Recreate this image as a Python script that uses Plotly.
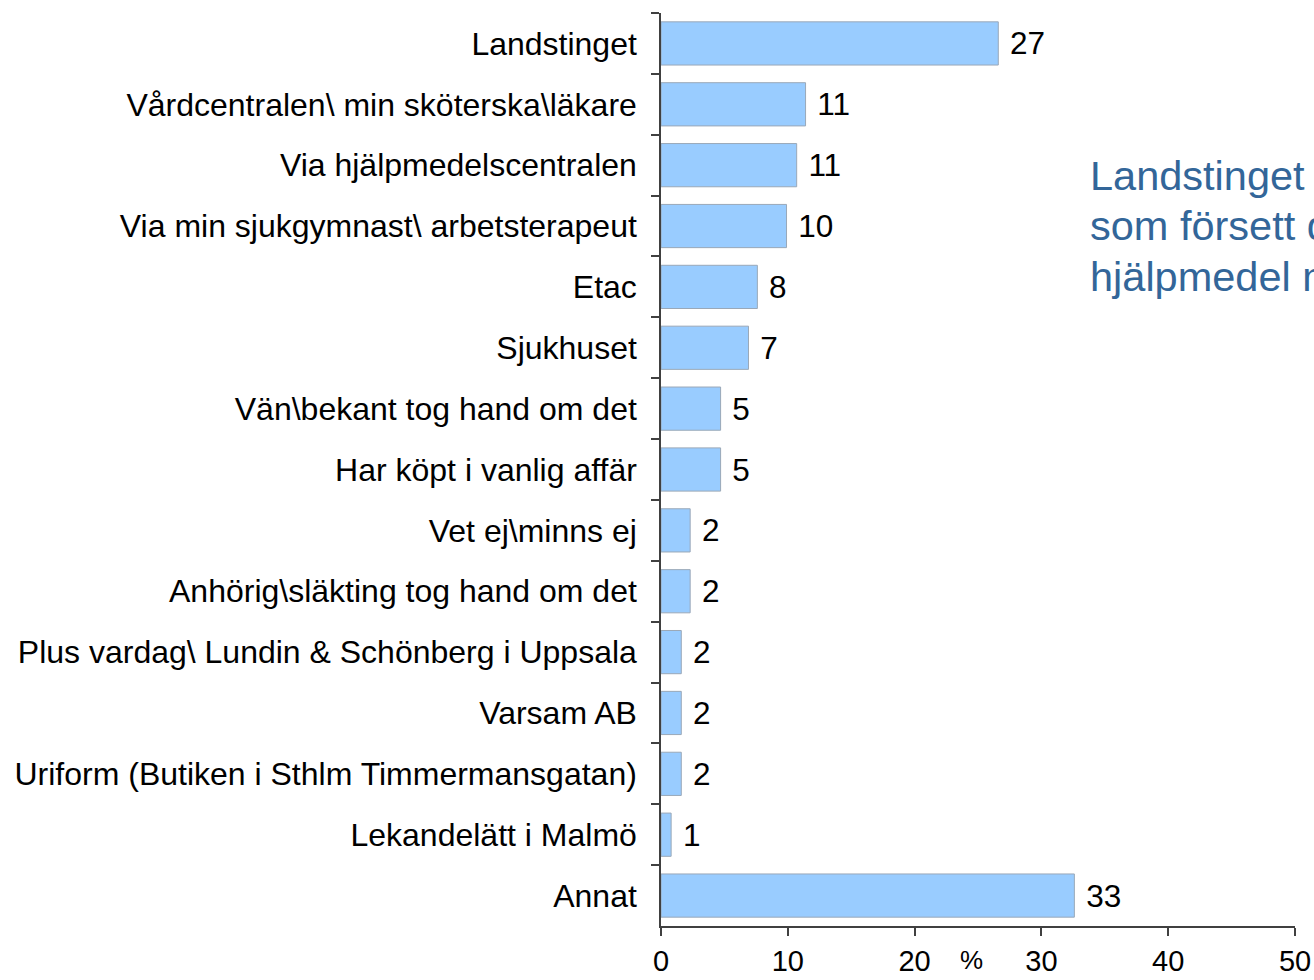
import plotly.graph_objects as go

categories = [
    "Landstinget",
    "Vårdcentralen\\ min sköterska\\läkare",
    "Via hjälpmedelscentralen",
    "Via min sjukgymnast\\ arbetsterapeut",
    "Etac",
    "Sjukhuset",
    "Vän\\bekant tog hand om det",
    "Har köpt i vanlig affär",
    "Vet ej\\minns ej",
    "Anhörig\\släkting tog hand om det",
    "Plus vardag\\ Lundin & Schönberg i Uppsala",
    "Varsam AB",
    "Uriform (Butiken i Sthlm Timmermansgatan)",
    "Lekandelätt i Malmö",
    "Annat",
]
values = [26.6, 11.4, 10.7, 9.9, 7.6, 6.9, 4.7, 4.7, 2.3, 2.3, 1.6, 1.6, 1.6, 0.8, 32.6]
x_ticks = [0, 10, 20, 30, 40, 50]
side_note = [
    "Landstinget är den aktör",
    "som försett de flesta med",
    "hjälpmedel mot inkontinens",
]

FONT = "Liberation Sans, Arial, sans-serif"
AXIS = "#404040"

fig = go.Figure(go.Bar(
    x=values,
    y=categories,
    orientation="h",
    width=0.71,
    marker=dict(color="#99CCFF", line=dict(color="#9AA8B8", width=1)),
    texttemplate=" %{x:.0f}",
    textposition="outside",
    constraintext="none",
    cliponaxis=False,
    textfont=dict(family=FONT, size=31.5, color="black"),
    hoverinfo="skip",
))

fig.update_layout(
    width=1314,
    height=980,
    margin=dict(l=661, r=19, t=13, b=54, autoexpand=False),
    plot_bgcolor="white",
    paper_bgcolor="white",
    showlegend=False,
    font=dict(family=FONT, size=31, color="black"),
)

fig.update_xaxes(
    range=[0, 50],
    tickvals=x_ticks,
    automargin=False,
    showgrid=False,
    zeroline=False,
    showline=True,
    linecolor=AXIS,
    linewidth=1.5,
    ticks="outside",
    ticklen=8,
    tickwidth=1.5,
    tickcolor=AXIS,
    tickfont=dict(family=FONT, size=29, color="black"),
)

fig.update_yaxes(
    autorange="reversed",
    automargin=False,
    tickson="boundaries",
    showgrid=False,
    showline=True,
    linecolor=AXIS,
    linewidth=1.5,
    ticks="outside",
    ticklen=8,
    tickwidth=1.5,
    tickcolor=AXIS,
    ticklabelstandoff=16,
    tickfont=dict(family=FONT, size=32, color="black"),
)

# axis unit marker
fig.add_annotation(
    text="%", x=24.5, y=-0.037, xref="x", yref="paper",
    xanchor="center", yanchor="middle",
    showarrow=False, font=dict(family=FONT, size=26, color="black"),
)

# side commentary, one annotation per line
for i, line in enumerate(side_note):
    fig.add_annotation(
        text=line, x=1088, y=176 + 50 * i, xref="paper", yref="paper",
        showarrow=False, xanchor="left", yanchor="middle", align="left",
        font=dict(family=FONT, size=41.5, color="#336699"),
    )

# annotation positions above are in pixels; convert to paper fractions
plot_left, plot_w = 661, 1314 - 661 - 19
plot_top, plot_h = 13, 980 - 13 - 54
for ann in fig.layout.annotations[1:]:
    ann.x = (ann.x - plot_left) / plot_w
    ann.y = (plot_top + plot_h - ann.y) / plot_h

fig.write_html("out.html")
